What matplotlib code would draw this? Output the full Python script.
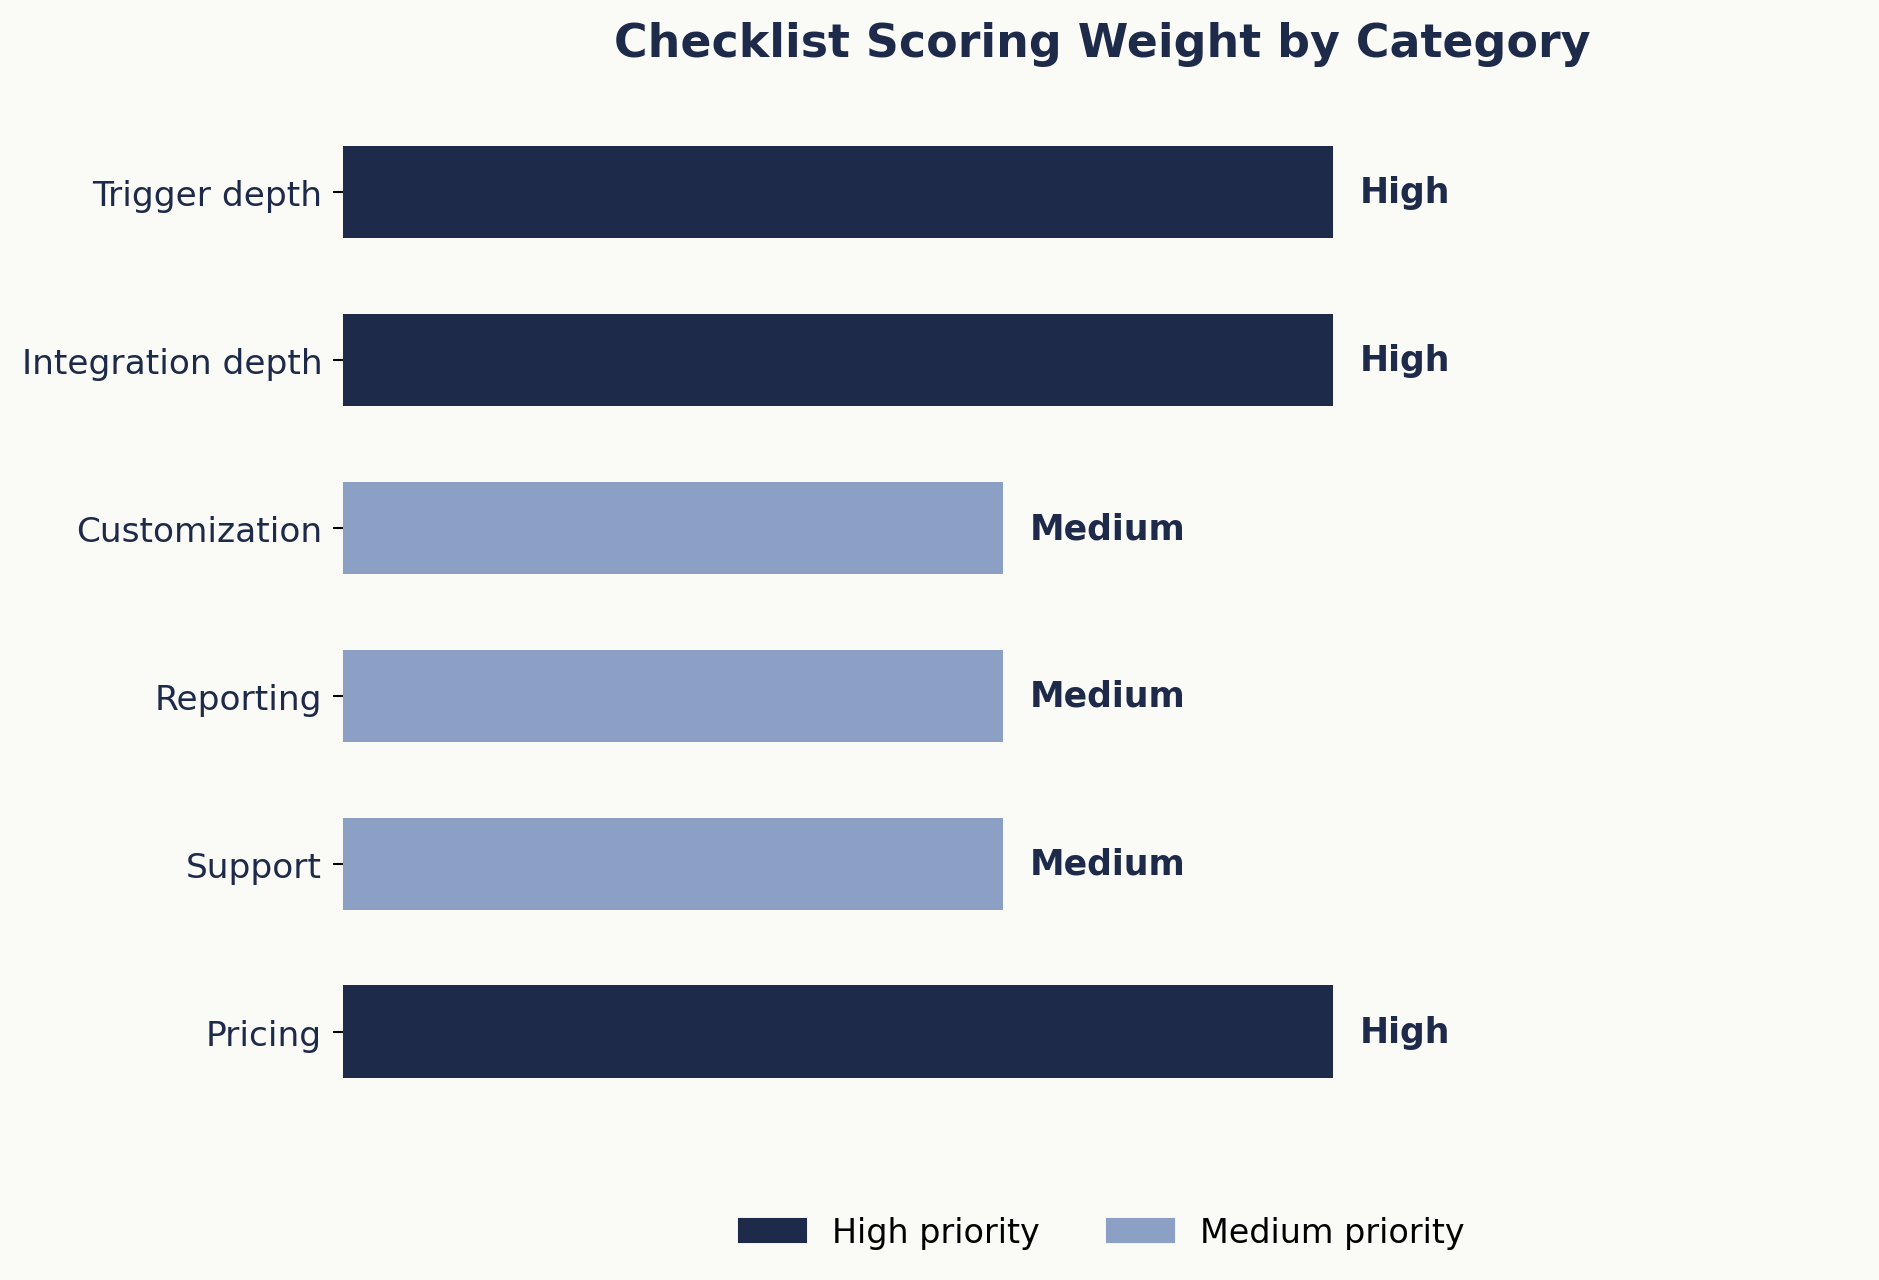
import matplotlib
matplotlib.use("Agg")
import matplotlib.pyplot as plt
from matplotlib.patches import Patch

# Data (top to bottom)
categories = ["Trigger depth", "Integration depth", "Customization",
              "Reporting", "Support", "Pricing"]
priority = ["High", "High", "Medium", "Medium", "Medium", "High"]
weight_map = {"High": 3, "Medium": 2}
weights = [weight_map[p] for p in priority]

navy = "#1e2a4a"
light = "#8c9fc5"
bg = "#fafaf6"
colors = [navy if p == "High" else light for p in priority]

fig = plt.figure(figsize=(1879 / 150, 1281 / 150), dpi=150, facecolor=bg)
ax = fig.add_axes([343 / 1879, 0.1215, (1861 - 343) / 1879, 0.80])
ax.set_facecolor(bg)

y = list(range(len(categories)))
ax.barh(y, weights, height=0.55, color=colors)
ax.set_yticks(y)
ax.set_yticklabels(categories, fontsize=16.5, color=navy)
ax.invert_yaxis()
ax.set_xlim(0, 4.6)

# Priority labels at bar ends
for yi, w, p in zip(y, weights, priority):
    ax.text(w + 0.08, yi, p, va="center", ha="left", fontsize=16.7,
            fontweight="bold", color=navy)

for s in ax.spines.values():
    s.set_visible(False)
ax.set_xticks([])
ax.tick_params(axis="y", length=5, width=1, pad=5)

ax.set_title("Checklist Scoring Weight by Category", fontsize=22,
             fontweight="bold", color=navy, pad=21)

handles = [Patch(color=navy, label="High priority"),
           Patch(color=light, label="Medium priority")]
fig.legend(handles=handles, loc="center", ncol=2, frameon=False,
           fontsize=16, bbox_to_anchor=(1102 / 1879, 0.0367))

fig.savefig("out.png", dpi=150, facecolor=bg)
